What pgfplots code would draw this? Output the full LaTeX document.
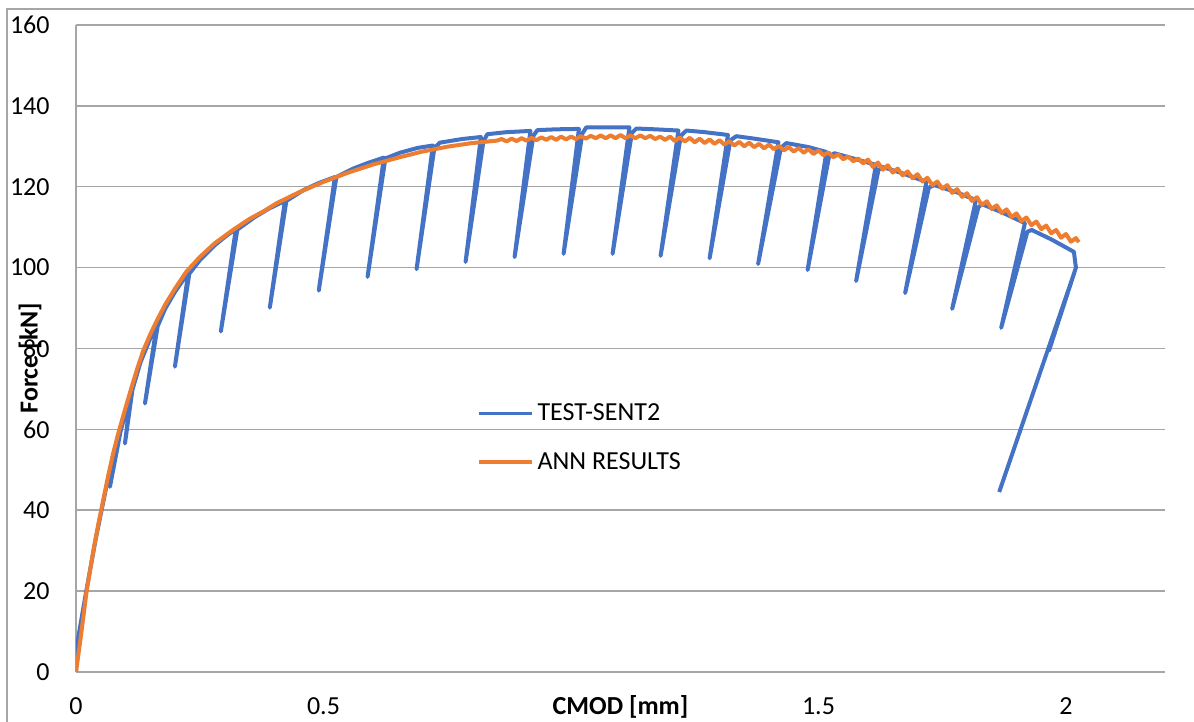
\documentclass[border=0pt]{standalone}
\usepackage{pgfplots}
\pgfplotsset{compat=1.18}
\usepackage{fontspec}
\setmainfont{Carlito}
\definecolor{sentblue}{HTML}{4472C4}
\definecolor{annorange}{HTML}{ED7D31}
\definecolor{gridgray}{HTML}{A6A6A6}
\newcommand{\chartfont}{\fontsize{13}{15.5}\selectfont}
\begin{document}
\begin{tikzpicture}
\useasboundingbox (0,0) rectangle (597pt,361pt);
\draw[gridgray, line width=0.6pt] (3.5pt,0) -- (3.5pt,356.5pt) -- (597pt,356.5pt);
\begin{axis}[
  at={(38pt,25pt)}, anchor=south west,
  scale only axis, width=544.5pt, height=323.5pt,
  xmin=0, xmax=2.2, ymin=0, ymax=160,
  xtick={0,0.5,1,1.5,2}, xticklabels={0,0.5,,1.5,2},
  ytick={0,20,...,160},
  ymajorgrids, grid style={gridgray, line width=0.75pt},
  axis x line=bottom, axis y line=left,
  axis line style={gridgray, line width=0.75pt, -},
  major tick length=0pt, tick style={draw=none},
  tick label style={font=\chartfont, /pgf/number format/assume math mode=true},
  yticklabel style={anchor=east, inner sep=0pt, xshift=-13pt},
  xticklabel style={anchor=base, inner sep=0pt, yshift=-21.25pt},
  xlabel={\textbf{CMOD [mm]}}, ylabel={\textbf{Force [kN]}},
  xlabel style={at={(axis description cs:0.5,0)}, anchor=base, inner sep=0pt, yshift=-21.25pt, font=\chartfont},
  ylabel style={at={(axis description cs:-0.0422,0.485)}, anchor=center, inner sep=0pt, font=\chartfont},
  legend cell align=left,
  legend style={at={(axis cs:0.797,67.5)}, anchor=north west, draw=none, fill=none, font=\chartfont, row sep=14.5pt, column sep=2pt, nodes={inner sep=0pt}},
  legend image code/.code={\draw[#1, line width=1.8pt] (0pt,0pt) -- (26.5pt,0pt);},
]
\addplot[sentblue, line width=2pt, line join=round] coordinates {
(0,0) (0.001,6) (0.02,19.5) (0.04,33) (0.06,45) (0.075,53.5) (0.088,59.5)
(0.0686,45.8) (0.09,59.5) (0.1,64) (0.112,69.8)
(0.0989,56.5) (0.114,69.8) (0.13,76.5) (0.15,82.5) (0.163,85.8)
(0.1393,66.4) (0.165,85.5) (0.18,89.8) (0.2,94) (0.227,98.8)
(0.1998,75.5) (0.229,98.5) (0.25,101.8) (0.28,105.5) (0.3,107.5) (0.323,109.6)
(0.2926,84.2) (0.326,109.4) (0.36,112.4) (0.39,114.6) (0.422,116.5)
(0.3915,90.1) (0.425,116.5) (0.46,119.2) (0.49,120.9) (0.523,122.4)
(0.4904,94.3) (0.526,122.4) (0.56,124.5) (0.59,125.9) (0.622,127.2)
(0.589,97.7) (0.625,127) (0.654,128.4) (0.69,129.6) (0.721,130.2)
(0.688,99.6) (0.724,129.6) (0.735,130.9) (0.78,131.8) (0.818,132.3)
(0.787,101.4) (0.823,131.2) (0.831,133.0) (0.87,133.5) (0.918,133.8)
(0.886,102.6) (0.924,132.6) (0.932,134.0) (0.97,134.2) (1.016,134.3)
(0.985,103.4) (1.023,133.2) (1.031,134.7) (1.08,134.7) (1.118,134.7)
(1.084,103.4) (1.123,133.3) (1.132,134.4) (1.17,134.2) (1.217,133.9)
(1.181,102.9) (1.222,132.6) (1.233,133.9) (1.27,133.5) (1.317,132.8)
(1.280,102.3) (1.322,131.5) (1.334,132.5) (1.37,131.9) (1.419,131.0)
(1.378,100.9) (1.424,129.6) (1.435,130.8) (1.48,129.8) (1.516,128.6)
(1.478,99.4) (1.521,127.3) (1.532,128.3) (1.57,127.0) (1.616,125.4)
(1.576,96.7) (1.621,124.1) (1.629,124.9) (1.67,123.3) (1.718,121.2)
(1.675,93.7) (1.723,119.8) (1.734,120.4) (1.78,118.6) (1.818,116.7)
(1.770,89.8) (1.823,114.9) (1.830,115.7) (1.87,113.7) (1.917,111.0)
(1.869,85.1) (1.922,108.9) (1.931,109.3) (1.97,107.0) (2.016,103.9)
(2.02,100) (1.966,79.6) (2.018,99.2) (1.865,44.5)
};
\addlegendentry{TEST-SENT2}
\addplot[annorange, line width=2pt, line join=round] coordinates {
(0,0) (0.005,4.5) (0.01,9) (0.0215,20) (0.035,30) (0.045,36.5) (0.055,42.5)
(0.065,48.5) (0.075,54) (0.0854,59) (0.1,65.3) (0.112,70.3) (0.125,75.5)
(0.136,79.5) (0.15,83.5) (0.165,87.3) (0.18,90.8) (0.2,94.8) (0.223,99)
(0.25,102.6) (0.28,106) (0.317,109.3) (0.35,112) (0.38,114) (0.405,115.9)
(0.45,118.6) (0.5,121.2) (0.55,123.5) (0.6,125.5) (0.654,127.3) (0.7,128.7)
(0.75,129.9) (0.8,130.8) (0.85,131.4)
(0.86,131.8) (0.87,131.2) (0.88,131.9) (0.89,131.3) (0.90,132.0) (0.91,131.4)
(0.92,132.1) (0.93,131.5) (0.94,132.2) (0.95,131.6) (0.96,132.3) (0.97,131.6)
(0.98,132.4) (0.99,131.7) (1.00,132.4) (1.01,131.8) (1.02,132.5) (1.03,131.9)
(1.04,132.6) (1.05,132.0) (1.06,132.7) (1.07,132.0) (1.08,132.7) (1.09,132.0)
(1.10,132.8) (1.11,132.0) (1.12,132.7) (1.13,132.0) (1.14,132.7) (1.15,132.0)
(1.16,132.6) (1.17,131.8) (1.18,132.4) (1.19,131.6) (1.20,132.4) (1.21,131.3)
(1.22,132.2) (1.23,131.2) (1.24,132.1) (1.25,131.0) (1.26,131.9) (1.27,130.8)
(1.28,131.7) (1.29,130.6) (1.30,131.5) (1.31,130.4) (1.32,131.3) (1.33,130.2)
(1.34,131.1) (1.35,130.0) (1.36,130.9) (1.37,129.8) (1.38,130.6) (1.39,129.5)
(1.40,130.4) (1.41,129.3) (1.42,130.1) (1.43,129.0) (1.44,129.8) (1.45,128.7)
(1.46,129.6) (1.47,128.4) (1.48,129.3) (1.49,128.1) (1.50,129.0) (1.51,127.8)
(1.52,128.5) (1.53,127.3) (1.54,128.0) (1.55,126.8) (1.56,127.5) (1.57,126.3)
(1.58,127.0) (1.59,125.8) (1.60,126.7) (1.61,124.9) (1.62,126.0) (1.63,124.2)
(1.64,125.3) (1.65,123.5) (1.66,124.5) (1.67,122.8) (1.68,123.8) (1.69,122.1)
(1.70,123.1) (1.71,121.3) (1.72,122.2) (1.73,120.4) (1.74,121.3) (1.75,119.5)
(1.76,120.4) (1.77,118.5) (1.78,119.4) (1.79,117.5) (1.80,118.4) (1.81,116.5)
(1.82,117.4) (1.83,115.5) (1.84,116.4) (1.85,114.5) (1.86,115.4) (1.87,113.5)
(1.88,114.4) (1.89,112.5) (1.90,113.4) (1.91,111.5) (1.92,112.4) (1.93,110.5)
(1.94,111.4) (1.95,109.5) (1.96,110.4) (1.97,108.5) (1.98,109.3) (1.99,107.4)
(2.00,108.3) (2.01,106.4) (2.02,107.3) (2.026,106.3)
};
\addlegendentry{ANN RESULTS}
\end{axis}
\end{tikzpicture}
\end{document}
